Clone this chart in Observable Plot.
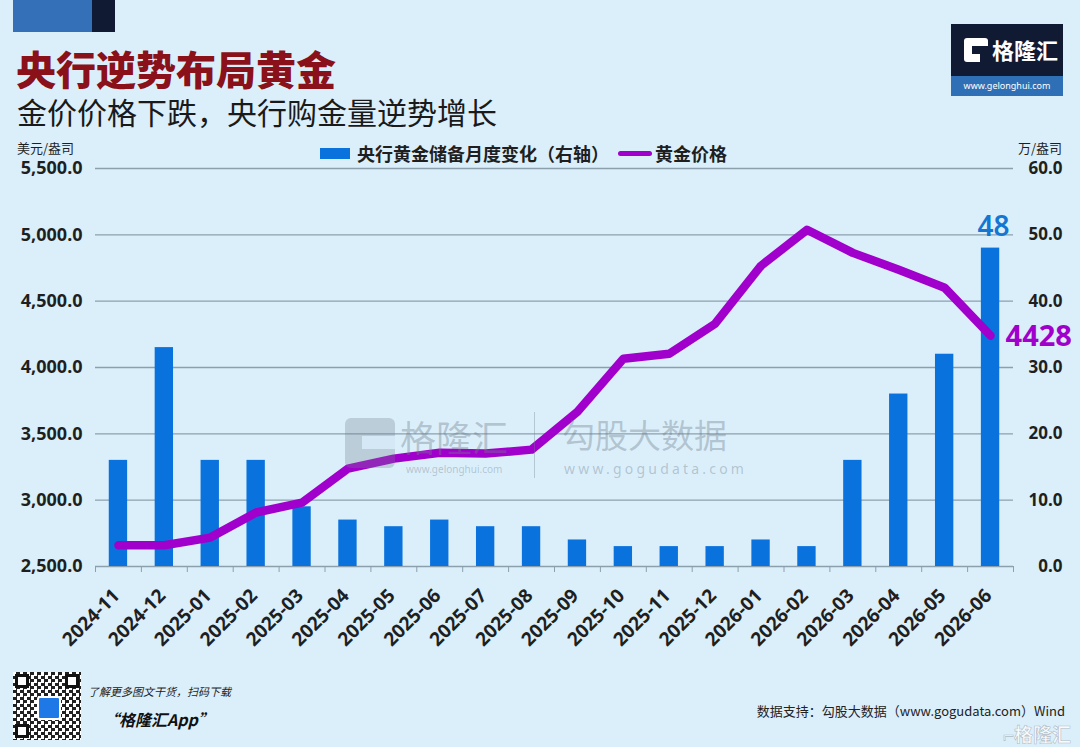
<!DOCTYPE html>
<html><head><meta charset="utf-8">
<script src="https://cdn.jsdelivr.net/npm/d3@7"></script>
<script src="https://cdn.jsdelivr.net/npm/@observablehq/plot@0.6"></script>
<style>
body{margin:0;background:#dbeffb;}
#page{position:relative;width:1080px;height:747px;overflow:hidden;background:#dbeffb;font-family:"Noto Sans","Noto Sans CJK SC",sans-serif;color:#1f1f1f;}
.abs{position:absolute;white-space:nowrap;line-height:1;}
#chart{position:absolute;left:0;top:130px;}
.wm{color:rgba(110,125,138,0.38);}
</style></head><body><div id="page">
<div class="abs" style="left:13px;top:0;width:79px;height:32px;background:#3470b8"></div>
<div class="abs" style="left:92px;top:0;width:23px;height:32px;background:#111a33"></div>
<div class="abs" style="left:16px;top:48px;font-size:40px;line-height:40px;height:40px;font-weight:900;color:#8a1019;font-family:'Noto Sans CJK SC',sans-serif">央行逆势布局黄金</div>
<div class="abs" style="left:17px;top:96px;font-size:30px;line-height:30px;font-weight:400;color:#1a1a1a;font-family:'Noto Sans CJK SC',sans-serif">金价价格下跌，央行购金量逆势增长</div>

<div class="abs" style="left:951px;top:24px;width:112px;height:72px;background:#111a33"></div>
<div class="abs" style="left:951px;top:76px;width:112px;height:20px;background:#2f6fb5;color:#fff;font-size:9px;text-align:center;line-height:20px">www.gelonghui.com</div>
<div class="abs" style="left:964px;top:38px;width:24px;height:24px;background:#fff;border-radius:3px"></div>
<div class="abs" style="left:972px;top:46px;width:16px;height:8px;background:#111a33"></div>
<div class="abs" style="left:980px;top:50px;width:8px;height:12px;background:#111a33"></div>
<div class="abs" style="left:992px;top:38px;font-size:22px;font-weight:700;color:#fff;font-family:'Noto Sans CJK SC',sans-serif">格隆汇</div>

<div class="abs" style="left:17px;top:141px;font-size:13px;font-family:'Noto Sans CJK SC',sans-serif">美元/盎司</div>
<div class="abs" style="right:18px;top:141px;font-size:13px;font-family:'Noto Sans CJK SC',sans-serif">万/盎司</div>

<div class="abs" style="left:320px;top:148px;width:30px;height:11px;background:#0a72dc"></div>
<div class="abs" style="left:357px;top:144px;font-size:18px;font-weight:700;font-family:'Noto Sans CJK SC',sans-serif">央行黄金储备月度变化（右轴）</div>
<div class="abs" style="left:618px;top:151px;width:34px;height:5px;border-radius:3px;background:#a100cc"></div>
<div class="abs" style="left:655px;top:144px;font-size:18px;font-weight:700;font-family:'Noto Sans CJK SC',sans-serif">黄金价格</div>

<div id="chart"></div>

<div class="abs" style="left:345px;top:418px;width:50px;height:50px;border-radius:6px;background:rgba(110,125,138,0.30)"></div>
<div class="abs" style="left:362px;top:436px;width:33px;height:13px;background:#dbeffb;opacity:0.8"></div>
<div class="abs wm" style="left:400px;top:418px;font-size:36px;font-family:'Noto Sans CJK SC',sans-serif">格隆汇</div>
<div class="abs wm" style="left:406px;top:464px;font-size:10px">www.gelonghui.com</div>
<div class="abs" style="left:534px;top:412px;width:1px;height:66px;background:rgba(110,125,138,0.35)"></div>
<div class="abs wm" style="left:562px;top:418px;font-size:33px;font-family:'Noto Sans CJK SC',sans-serif">勾股大数据</div>
<div class="abs wm" style="left:564px;top:462px;font-size:14px;letter-spacing:3.2px">www.gogudata.com</div>

<div class="abs" style="left:13px;top:672px;width:68px;height:68px;background:#fff;
background-image:repeating-conic-gradient(#222 0 25%, #fff 0 50%);background-size:7px 7px;"></div>
<div class="abs" style="left:15px;top:674px;width:14px;height:14px;border:3px solid #111;background:#fff;box-sizing:border-box"></div>
<div class="abs" style="left:65px;top:674px;width:14px;height:14px;border:3px solid #111;background:#fff;box-sizing:border-box"></div>
<div class="abs" style="left:15px;top:724px;width:14px;height:14px;border:3px solid #111;background:#fff;box-sizing:border-box"></div>
<div class="abs" style="left:37px;top:696px;width:20px;height:20px;border-radius:3px;background:#1e78e6;border:2px solid #fff"></div>
<div class="abs" style="left:88px;top:686px;font-size:11px;font-style:italic;color:#222;font-family:'Noto Sans CJK SC',sans-serif">了解更多图文干货，扫码下载</div>
<div class="abs" style="left:103px;top:711px;font-size:16px;font-style:italic;font-weight:700;color:#111;font-family:'Noto Sans CJK SC',sans-serif">“格隆汇App”</div>
<div class="abs" style="right:15px;top:704px;font-size:13px;color:#222;font-family:'Noto Sans CJK SC',sans-serif">数据支持：勾股大数据（www.gogudata.com）Wind</div>
<div class="abs" style="left:1003px;top:724px;font-size:19px;font-weight:700;color:rgba(255,255,255,0.75);-webkit-text-stroke:0.6px rgba(120,130,140,0.5);font-family:'Noto Sans CJK SC',sans-serif">⌐格隆汇</div>
</div>
<script>
const months = ["2024-11","2024-12","2025-01","2025-02","2025-03","2025-04","2025-05","2025-06","2025-07","2025-08","2025-09","2025-10","2025-11","2025-12","2026-01","2026-02","2026-03","2026-04","2026-05","2026-06"];
const reserveChange = [16,33,16,16,9,7,6,7,6,6,4,3,3,3,4,3,16,26,32,48];
const goldPrice = [2660,2660,2718,2907,2982,3238,3313,3358,3351,3381,3667,4066,4104,4330,4767,5038,4864,4736,4601,4240];
const leftTicks = [2500,3000,3500,4000,4500,5000,5500];
const rightTicks = [0,10,20,30,40,50,60];
const lastPriceLabel = "4428";

const leftMin = leftTicks[0], leftMax = leftTicks[leftTicks.length-1];
const ratio = (leftMax - leftMin) / (rightTicks[rightTicks.length-1] - rightTicks[0]);
const table = months.map((m, i) => ({month: m, reserve: reserveChange[i], price: goldPrice[i]}));
const last = table[table.length - 1];

const W = 1080, H = 540, mL = 95, mR = 67, mT = 38, mB = 104;
const step = (W - mL - mR) / months.length;
const gridColor = "#8c9fad";

const chart = Plot.plot({
  width: W, height: H,
  marginLeft: mL, marginRight: mR, marginTop: mT, marginBottom: mB,
  style: {background: "transparent", fontFamily: "'Noto Sans','Noto Sans CJK SC',sans-serif", fontSize: "17px", fontWeight: "700", color: "#1f1f1f"},
  x: {type: "band", domain: months, paddingInner: 0.6, paddingOuter: 0.3, align: 0.5, round: false, axis: null},
  y: {domain: [leftMin, leftMax]},
  marks: [
    Plot.gridY(leftTicks.slice(1), {stroke: gridColor, strokeOpacity: 1, strokeWidth: 1.4}),
    Plot.ruleY([leftMin], {stroke: gridColor, strokeWidth: 1.4}),
    Plot.axisY(leftTicks, {anchor: "left", tickSize: 0, tickPadding: 13, tickFormat: d3.format(",.1f"), label: null, fontSize: 18, fontWeight: 700}),
    Plot.axisY(leftTicks, {anchor: "right", tickSize: 0, tickPadding: 0, textAnchor: "end", dx: 49, tickFormat: (d, i) => rightTicks[i].toFixed(1), label: null, fontSize: 17, fontWeight: 700}),
    Plot.axisX(months, {tickSize: 6, dx: -step / 2, text: null, stroke: gridColor, label: null}),
    Plot.axisX([months[months.length - 1]], {tickSize: 6, dx: step / 2, text: null, stroke: gridColor, label: null}),
    Plot.text(months, {x: d => d, y: leftMin, text: d => d, rotate: -45, textAnchor: "end", lineAnchor: "middle", dx: -2, dy: 26, fill: "#1f1f1f", fontSize: 19, fontWeight: 700}),
    Plot.barY(table, {x: "month", y1: leftMin, y2: d => leftMin + d.reserve * ratio, fill: "#0a72dc"}),
    Plot.line(table, {x: "month", y: "price", stroke: "#a100cc", strokeWidth: 8.5, strokeLinejoin: "round", strokeLinecap: "round"}),
    Plot.text([last], {x: "month", y: d => leftMin + d.reserve * ratio, text: d => String(d.reserve), dx: 3, dy: -21, fill: "#1476d2", fontSize: 28, fontWeight: 600}),
    Plot.text([last], {x: "month", y: "price", text: () => lastPriceLabel, textAnchor: "start", dx: 15, dy: 1, fill: "#a100cc", fontSize: 29, fontWeight: 700})
  ]
});
document.getElementById("chart").appendChild(chart);
</script>
</body></html>
